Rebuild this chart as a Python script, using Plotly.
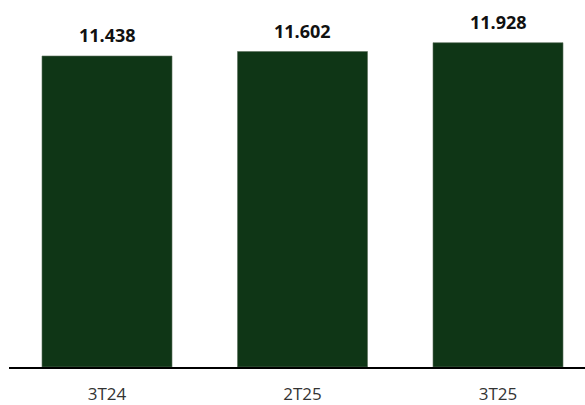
import plotly.graph_objects as go

categories = ["3T24", "2T25", "3T25"]
values = [11438, 11602, 11928]
bar_color = "#0f3616"

x_pos = list(range(len(categories)))

fig = go.Figure()
fig.add_trace(go.Bar(
    x=x_pos, y=values, width=0.665,
    marker=dict(color=bar_color, line=dict(color="#5a6e5a", width=0.6)),
    hoverinfo="skip",
))

for xp, v in zip(x_pos, values):
    fig.add_annotation(
        x=xp, y=v, text=f"<b>{v:,}</b>".replace(",", "."),
        showarrow=False, yanchor="bottom", yshift=7,
        font=dict(family="Open Sans", size=18, color="#111111"),
    )

fig.update_layout(
    width=585, height=405,
    margin=dict(l=9, r=0, t=20, b=38),
    paper_bgcolor="white", plot_bgcolor="white",
    showlegend=False,
    separators=",.",
    xaxis=dict(
        range=[-0.5013, 2.445],
        tickmode="array", tickvals=x_pos, ticktext=categories,
        tickfont=dict(family="Open Sans", size=17, color="#333333"),
        showgrid=False, zeroline=False, automargin=False,
        showline=True, linecolor="black", linewidth=1.5,
        ticks="", ticklabelstandoff=11,
    ),
    yaxis=dict(
        range=[0, 12762], visible=False, showgrid=False, zeroline=False,
        automargin=False,
    ),
)

fig.write_html("out.html")
